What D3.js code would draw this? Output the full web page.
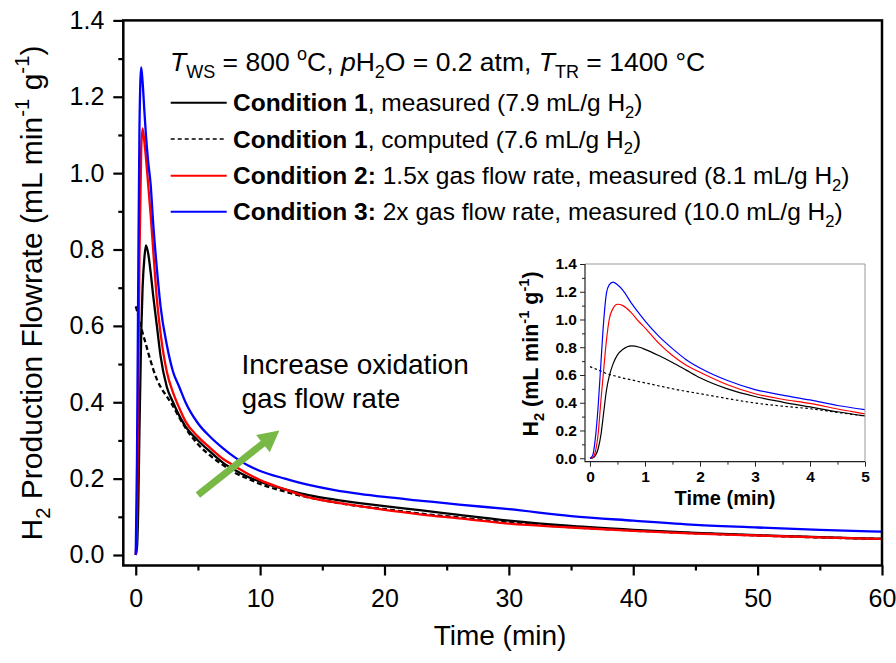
<!DOCTYPE html>
<html><head><meta charset="utf-8">
<script src="https://cdn.jsdelivr.net/npm/d3@7"></script>
<style>
body{margin:0;background:#fff}
svg{display:block}
text{font-family:"Liberation Sans",Arial,sans-serif;fill:#000}
</style>
</head><body>
<svg id="chart" width="896" height="663"></svg>
<script>
// ---------------- DATA ----------------
const times = [0,0.1,0.2,0.3,0.44,0.55,0.7,0.82,1.0,1.2,1.4,1.7,2.0,2.5,3.0,3.5,4.0,5,6,7,8,9,10,12,14,16,18,20,23,26,30,35,40,45,50,55,60];
const cond1Measured = [0,0.02,0.12,0.33,0.58,0.70,0.78,0.811,0.79,0.74,0.68,0.60,0.52,0.44,0.40,0.365,0.337,0.30,0.27,0.242,0.222,0.205,0.192,0.172,0.156,0.145,0.136,0.128,0.117,0.105,0.090,0.076,0.066,0.058,0.052,0.047,0.042];
const cond1Computed = [0.651,0.64,0.627,0.613,0.595,0.582,0.565,0.552,0.53,0.508,0.487,0.46,0.44,0.415,0.39,0.36,0.333,0.29,0.26,0.236,0.215,0.200,0.186,0.166,0.150,0.138,0.128,0.120,0.108,0.098,0.085,0.073,0.064,0.057,0.051,0.046,0.042];
const cond2Measured = [0,0.10,0.40,0.78,1.06,1.117,1.08,1.04,0.97,0.89,0.80,0.67,0.58,0.48,0.425,0.385,0.35,0.31,0.28,0.252,0.232,0.213,0.196,0.172,0.150,0.138,0.128,0.118,0.106,0.096,0.082,0.072,0.063,0.056,0.051,0.046,0.042];
const cond3Measured = [0,0.25,0.72,1.12,1.277,1.24,1.16,1.10,1.03,0.97,0.87,0.75,0.65,0.55,0.48,0.44,0.40,0.345,0.309,0.28,0.255,0.235,0.22,0.200,0.183,0.170,0.160,0.152,0.142,0.132,0.120,0.102,0.090,0.079,0.072,0.066,0.061];

const insetTimes = [0,0.05,0.1,0.15,0.2,0.25,0.3,0.35,0.42,0.5,0.6,0.75,0.9,1.0,1.25,1.5,1.75,2.0,2.5,3.0,3.5,4.0,4.5,5.0];
const insetCond1Measured = [0,0.003,0.02,0.07,0.17,0.33,0.49,0.59,0.68,0.745,0.785,0.81,0.80,0.785,0.74,0.69,0.635,0.58,0.50,0.445,0.405,0.37,0.335,0.305];
const insetCond1Computed = [0.66,0.652,0.644,0.636,0.628,0.619,0.61,0.604,0.597,0.588,0.578,0.565,0.551,0.543,0.522,0.501,0.482,0.465,0.43,0.398,0.375,0.357,0.33,0.305];
const insetCond2Measured = [0,0.005,0.05,0.18,0.42,0.64,0.85,1.0,1.08,1.11,1.10,1.05,0.98,0.94,0.83,0.74,0.67,0.62,0.53,0.465,0.425,0.395,0.355,0.32];
const insetCond3Measured = [0,0.02,0.15,0.38,0.69,0.99,1.19,1.25,1.27,1.25,1.21,1.12,1.04,0.99,0.88,0.79,0.71,0.65,0.56,0.495,0.455,0.42,0.38,0.35];

const xTicks = [0,10,20,30,40,50,60];
const xMinorTicks = [5,15,25,35,45,55];
const yTicks = [0,0.2,0.4,0.6,0.8,1.0,1.2,1.4];
const yMinorTicks = [0.1,0.3,0.5,0.7,0.9,1.1,1.3];
const insetXTicks = [0,1,2,3,4,5];
const insetXMinorTicks = [0.5,1.5,2.5,3.5,4.5];
const insetYTicks = [0,0.2,0.4,0.6,0.8,1.0,1.2,1.4];
const insetYMinorTicks = [0.1,0.3,0.5,0.7,0.9,1.1,1.3];

const seriesNames = ["cond1Measured","cond1Computed","cond2Measured","cond3Measured"];
const seriesColors = ["#000000","#000000","#ff0000","#0000ff"];
const seriesDashed = [false,true,false,false];
const legendLabels = [
  [["Condition 1","bold"],[", measured (7.9 mL/g H","plain"],["2","sub"],[")","plain"]],
  [["Condition 1","bold"],[", computed (7.6 mL/g H","plain"],["2","sub"],[")","plain"]],
  [["Condition 2:","bold"],[" 1.5x gas flow rate, measured (8.1 mL/g H","plain"],["2","sub"],[")","plain"]],
  [["Condition 3:","bold"],[" 2x gas flow rate, measured (10.0 mL/g H","plain"],["2","sub"],[")","plain"]]
];
const headerParts = [["T","italic"],["WS","sub"],[" = 800 ","plain"],["o","sup"],["C, ","plain"],["p","italic"],["H","plain"],["2","sub"],["O = 0.2 atm, ","plain"],["T","italic"],["TR","sub"],[" = 1400 °C","plain"]];
const annotationLines = ["Increase oxidation","gas flow rate"];
const arrowFrom = [5.0,0.157];
const arrowTo = [11.55,0.326];

// ---------------- HELPERS ----------------
const svg = d3.select("#chart");
function rich(sel, parts, fs){
  let off = 0;
  parts.forEach(([t,type])=>{
    const ts = sel.append("tspan").text(t);
    let target = 0;
    if(type === "sub"){ target = 0.28*fs; ts.attr("font-size", 0.68*fs); }
    else if(type === "sup"){ target = -0.42*fs; ts.attr("font-size", 0.68*fs); }
    else ts.attr("font-size", fs);
    if(type === "bold") ts.attr("font-weight","bold");
    if(type === "italic") ts.attr("font-style","italic");
    const dy = target - off; off = target;
    if(dy !== 0) ts.attr("dy", dy);
  });
  return sel;
}

// ---------------- MAIN PLOT ----------------
const x = d3.scaleLinear().domain([-1,60]).range([123.3,882]);
const y = d3.scaleLinear().domain([-0.0275,1.4]).range([565.5,20.4]);

const main = svg.append("g");
main.append("defs").append("clipPath").attr("id","mainClip")
  .append("rect").attr("x",x(-1)).attr("y",y(1.4)).attr("width",x(60)-x(-1)).attr("height",y(-0.0275)-y(1.4));

const data = {cond1Measured, cond1Computed, cond2Measured, cond3Measured};
const line = d3.line().x((d,i)=>x(times[i])).y(d=>y(d)).curve(d3.curveMonotoneX);
const lineOrder = ["cond1Computed","cond1Measured","cond2Measured","cond3Measured"];
const lg = main.append("g").attr("clip-path","url(#mainClip)");
lineOrder.forEach(name=>{
  const i = seriesNames.indexOf(name);
  lg.append("path").datum(data[name]).attr("d",line)
    .attr("fill","none").attr("stroke",seriesColors[i]).attr("stroke-width",2.3)
    .attr("stroke-dasharray", seriesDashed[i] ? "5,3" : null)
    .attr("stroke-linejoin","round");
});

// axes
const yAxis = d3.axisLeft(y).tickValues(yTicks).tickSize(10).tickPadding(9).tickFormat(d3.format(".1f"));
const yAxisMinor = d3.axisLeft(y).tickValues(yMinorTicks).tickSize(5).tickFormat("");
const xAxis = d3.axisBottom(x).tickValues(xTicks).tickSize(10).tickPadding(14).tickFormat(d3.format("d"));
const xAxisMinor = d3.axisBottom(x).tickValues(xMinorTicks).tickSize(5).tickFormat("");

function styleAxis(g, fs){
  g.select(".domain").remove();
  g.selectAll(".tick line").attr("stroke","#000").attr("stroke-width",2.2);
  g.selectAll(".tick text").attr("font-size",fs).attr("font-family",'"Liberation Sans",Arial,sans-serif').attr("fill","#000");
}
main.append("g").attr("transform",`translate(${x(-1)},0)`).call(yAxis).call(g=>styleAxis(g,25));
main.append("g").attr("transform",`translate(${x(-1)},0)`).call(yAxisMinor).call(g=>styleAxis(g,25));
main.append("g").attr("transform",`translate(0,${y(-0.0275)})`).call(xAxis).call(g=>styleAxis(g,25));
main.append("g").attr("transform",`translate(0,${y(-0.0275)})`).call(xAxisMinor).call(g=>styleAxis(g,25));

main.append("rect").attr("x",x(-1)).attr("y",y(1.4)).attr("width",x(60)-x(-1)).attr("height",y(-0.0275)-y(1.4))
  .attr("fill","none").attr("stroke","#000").attr("stroke-width",2.5);

// axis titles
svg.append("text").attr("x",500).attr("y",645).attr("text-anchor","middle").attr("font-size",28).text("Time (min)");
rich(svg.append("text").attr("text-anchor","middle").attr("transform","translate(42,293) rotate(-90)"),
  [["H","plain"],["2","sub"],[" Production Flowrate (mL min","plain"],["-1","sup"],[" g","plain"],["-1","sup"],[")","plain"]], 30);

// header + legend
rich(svg.append("text").attr("x",170).attr("y",71), headerParts, 26.5);
const legendY = [102.7,139,175.7,211.7];
seriesNames.forEach((name,i)=>{
  const g = svg.append("g");
  g.append("line").attr("x1",170.7).attr("x2",226.7).attr("y1",legendY[i]).attr("y2",legendY[i])
    .attr("stroke",seriesColors[i]).attr("stroke-width",seriesDashed[i]?1.6:2)
    .attr("stroke-dasharray",seriesDashed[i]?"4,3":null);
  rich(g.append("text").attr("x",233).attr("y",legendY[i]+8.5), legendLabels[i], 24.5);
});

// annotation
annotationLines.forEach((t,i)=>{
  svg.append("text").attr("x",241.5).attr("y",374+i*34).attr("font-size",28).text(t);
});
{
  const x0=x(arrowFrom[0]), y0=y(arrowFrom[1]), x1=x(arrowTo[0]), y1=y(arrowTo[1]);
  const dx=x1-x0, dy=y1-y0, L=Math.hypot(dx,dy), ux=dx/L, uy=dy/L, nx=-uy, ny=ux;
  const hl=21, hw=11;
  const bx=x1-ux*hl, by=y1-uy*hl;
  svg.append("line").attr("x1",x0).attr("y1",y0).attr("x2",bx+ux*2).attr("y2",by+uy*2)
    .attr("stroke","#77b847").attr("stroke-width",7);
  svg.append("path").attr("d",`M${x1},${y1}L${bx+nx*hw},${by+ny*hw}L${bx-nx*hw},${by-ny*hw}Z`).attr("fill","#77b847");
}

// ---------------- INSET ----------------
const ix = d3.scaleLinear().domain([-0.09,5]).range([585,865]);
const iy = d3.scaleLinear().domain([-0.025,1.4]).range([461.7,264]);
const inset = svg.append("g");
inset.append("rect").attr("x",ix(-0.09)).attr("y",iy(1.4)).attr("width",ix(5)-ix(-0.09)).attr("height",iy(-0.025)-iy(1.4)).attr("fill","#fff");
inset.append("defs").append("clipPath").attr("id","insetClip")
  .append("rect").attr("x",ix(-0.09)).attr("y",iy(1.4)).attr("width",ix(5)-ix(-0.09)).attr("height",iy(-0.025)-iy(1.4));
const insetData = {cond1Measured:insetCond1Measured, cond1Computed:insetCond1Computed, cond2Measured:insetCond2Measured, cond3Measured:insetCond3Measured};
const iline = d3.line().x((d,i)=>ix(insetTimes[i])).y(d=>iy(d)).curve(d3.curveMonotoneX);
const ig = inset.append("g").attr("clip-path","url(#insetClip)");
lineOrder.forEach(name=>{
  const i = seriesNames.indexOf(name);
  ig.append("path").datum(insetData[name]).attr("d",iline)
    .attr("fill","none").attr("stroke",seriesColors[i]).attr("stroke-width",1.2)
    .attr("stroke-dasharray", seriesDashed[i] ? "2.5,2.5" : null);
});
// inset frame: top/right gray
inset.append("path").attr("d",`M${ix(-0.09)},${iy(1.4)}H${ix(5)}V${iy(-0.025)}`).attr("fill","none").attr("stroke","#999").attr("stroke-width",1);
inset.append("path").attr("d",`M${ix(-0.09)},${iy(1.4)}V${iy(-0.025)}H${ix(5)}`).attr("fill","none").attr("stroke","#222").attr("stroke-width",1.2);

function styleInset(g){
  g.select(".domain").remove();
  g.selectAll(".tick line").attr("stroke","#222").attr("stroke-width",1);
  g.selectAll(".tick text").attr("font-size",15.5).attr("font-weight","bold").attr("fill","#000");
}
inset.append("g").attr("transform",`translate(${ix(-0.09)},0)`)
  .call(d3.axisLeft(iy).tickValues(insetYTicks).tickSize(5).tickPadding(3).tickFormat(d3.format(".1f"))).call(styleInset);
inset.append("g").attr("transform",`translate(${ix(-0.09)},0)`)
  .call(d3.axisLeft(iy).tickValues(insetYMinorTicks).tickSize(3).tickFormat("")).call(styleInset);
inset.append("g").attr("transform",`translate(0,${iy(-0.025)})`)
  .call(d3.axisBottom(ix).tickValues(insetXTicks).tickSize(5).tickPadding(4).tickFormat(d3.format("d"))).call(styleInset);
inset.append("g").attr("transform",`translate(0,${iy(-0.025)})`)
  .call(d3.axisBottom(ix).tickValues(insetXMinorTicks).tickSize(3).tickFormat("")).call(styleInset);

inset.append("text").attr("x",725).attr("y",505).attr("text-anchor","middle").attr("font-size",20).attr("font-weight","bold").text("Time (min)");
rich(inset.append("text").attr("text-anchor","middle").attr("font-weight","bold").attr("transform","translate(538,354) rotate(-90)"),
  [["H","plain"],["2","sub"],[" (mL min","plain"],["-1","sup"],[" g","plain"],["-1","sup"],[")","plain"]], 21.5);
</script>
</body></html>
